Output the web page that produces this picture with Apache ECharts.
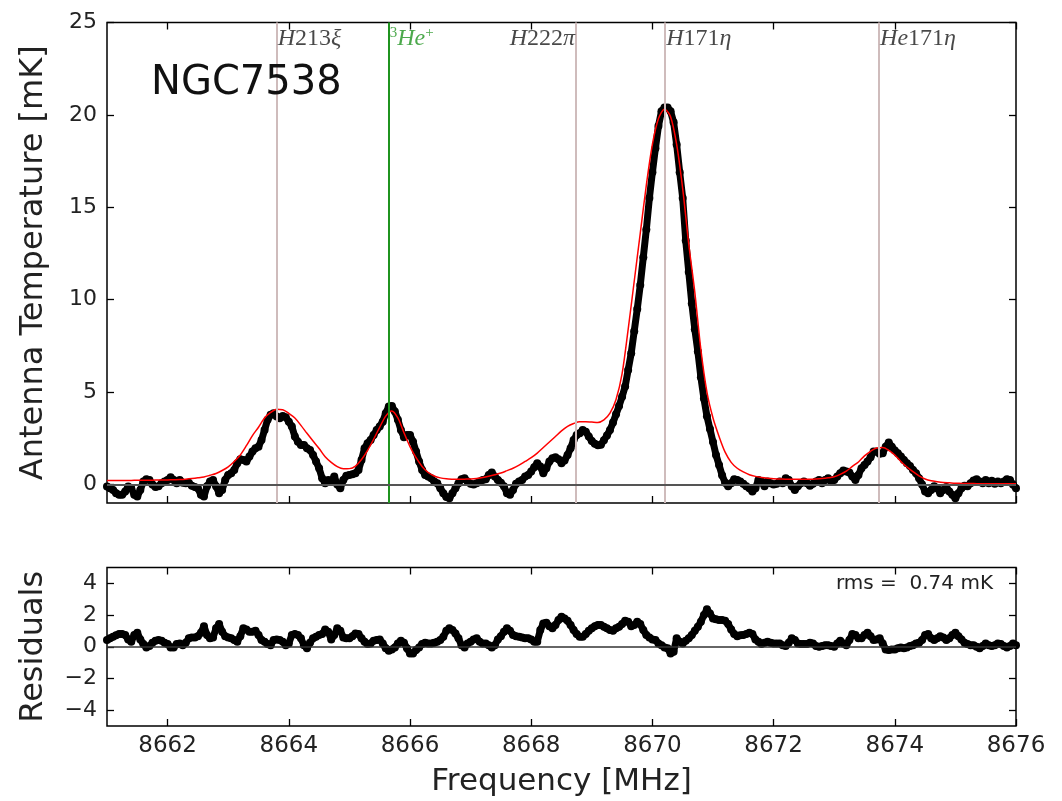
<!DOCTYPE html>
<html><head><meta charset="utf-8">
<script src="https://cdn.jsdelivr.net/npm/echarts@6/dist/echarts.min.js"></script>
<style>html,body{margin:0;padding:0;background:#fff}#c{width:1062px;height:801px}</style>
</head><body><div id="c"></div>
<script>
// Channel grid (MHz)
const freqStart = 8661.0;
const dataStep = 0.05;
const fitStep = 0.1;

// Observed antenna temperature [mK], one row per MHz (20 channels of 0.05 MHz)
const antennaTemp = [
  -0.11,-0.2,-0.29,-0.47,-0.56,-0.56,-0.38,-0.11,-0.2,-0.56,-0.65,-0.29,0.16,0.29,0.25,0,-0.14,-0.1,0.07,0.16,
  0.25,0.4,0.25,0.07,0.25,0.1,0.07,0.1,-0.07,-0.14,-0.2,-0.56,-0.65,-0.1,0.16,0.25,-0.1,-0.47,-0.29,0.25,
  0.52,0.61,0.79,1.15,1.37,1.33,1.24,1.51,1.78,1.96,2.05,2.41,2.95,3.5,3.77,3.86,3.68,3.59,3.71,3.64,
  3.4,3.14,2.6,2.32,2.14,2.14,1.96,1.87,1.6,1.24,0.88,0.34,0.07,0.25,0.16,0.43,0,-0.2,0.25,0.47,
  0.52,0.56,0.61,0.79,1.33,1.96,2.23,2.41,2.68,2.95,3.14,3.4,3.86,4.22,4.25,3.95,3.5,2.95,2.56,2.68,
  2.68,2.32,1.78,1.24,0.79,0.52,0.43,0.34,0.16,0.07,-0.2,-0.47,-0.68,-0.74,-0.47,-0.2,0.07,0.29,0.34,0.16,
  0.04,0,0.07,0.16,0.25,0.29,0.52,0.65,0.43,0.25,0.1,-0.1,-0.47,-0.56,-0.29,0.04,0.16,0.25,0.43,0.52,
  0.7,0.94,1.15,0.97,0.61,0.88,1.24,1.42,1.48,1.37,1.15,1.3,1.6,1.96,2.41,2.68,2.77,2.95,2.86,2.6,
  2.35,2.2,2.12,2.15,2.4,2.65,2.95,3.35,3.8,4.25,4.75,5.3,6.2,7.1,8.3,9.5,10.8,12.3,13.8,15.5,
  16.9,18.2,19.4,20.2,20.4,20.4,20.2,19.6,18.4,16.9,15.5,13.2,11.5,9.8,8.4,7.2,5.8,4.65,3.7,3.0,
  2.3,1.6,1.05,0.5,0.1,-0.1,0.07,0.29,0.25,0.16,0.04,-0.1,-0.2,-0.38,-0.2,0.25,0.16,-0.1,0.16,0.07,
  0,0.04,0.16,0.07,0.34,0.25,-0.1,-0.29,-0.1,0.07,0.16,0.07,-0.07,0.04,0.16,0.25,0.07,0.25,0.34,0.16,
  0.25,0.43,0.61,0.76,0.7,0.65,0.43,0.25,0.52,0.88,1.06,1.24,1.48,1.78,1.78,1.66,1.69,2.05,2.27,2.05,
  1.84,1.69,1.51,1.33,1.15,1.0,0.79,0.61,0.34,0,-0.38,-0.47,-0.29,-0.1,-0.2,-0.47,-0.29,-0.14,-0.38,-0.56,
  -0.74,-0.47,-0.2,-0.07,-0.1,0.07,0.22,0.29,0.16,0.07,0.25,0.07,0.2,0.04,0.16,0.07,0.16,0.29,0.25,0,
  -0.2
];

// Fitted model [mK], one row per MHz (10 samples of 0.1 MHz)
const fitModel = [
  0.22,0.22,0.22,0.22,0.22,0.23,0.23,0.23,0.24,0.24,
  0.25,0.26,0.27,0.29,0.32,0.36,0.41,0.5,0.6,0.76,
  0.96,1.25,1.6,2.1,2.65,3.1,3.6,3.9,4.07,4.05,
  3.85,3.6,3.2,2.77,2.35,1.95,1.5,1.2,0.97,0.85,
  0.86,1.0,1.35,1.85,2.45,3.1,3.7,3.98,3.6,2.8,
  2.05,1.45,0.98,0.65,0.46,0.36,0.31,0.29,0.28,0.29,
  0.3,0.33,0.38,0.45,0.53,0.62,0.75,0.88,1.05,1.25,
  1.45,1.7,2.0,2.3,2.6,2.9,3.15,3.3,3.4,3.4,
  3.38,3.36,3.5,3.86,4.6,6.0,8.4,11.0,13.6,16.2,
  18.4,19.8,20.3,19.9,18.4,16.0,13.0,10.4,7.3,5.0,
  3.6,2.6,1.75,1.2,0.88,0.68,0.53,0.44,0.38,0.34,
  0.31,0.3,0.29,0.29,0.29,0.29,0.29,0.3,0.32,0.36,
  0.42,0.55,0.72,0.98,1.22,1.55,1.8,1.98,2.0,1.85,
  1.6,1.25,0.95,0.7,0.47,0.3,0.2,0.15,0.11,0.09,
  0.07,0.06,0.05,0.05,0.04,0.04,0.04,0.04,0.04,0.04,
  0.04
];

// Residuals [mK], one row per MHz (20 channels of 0.05 MHz)
const residuals = [
  0.42,0.53,0.63,0.72,0.8,0.8,0.74,0.46,0.32,0.74,0.88,0.46,0.17,-0.04,0.04,0.25,0.38,0.42,0.38,0.25,
  0.17,-0.04,-0.04,0.17,0.21,0.1,0.25,0.53,0.59,0.59,0.67,0.88,1.3,0.74,0.53,0.59,1.16,1.43,0.95,0.67,
  0.59,0.53,0.42,0.32,0.67,1.16,1.09,0.95,0.95,1.01,0.74,0.42,0.32,0.17,0.1,0.42,0.46,0.42,0.32,0.1,
  0.21,0.74,0.8,0.74,0.53,0.1,-0.1,0.25,0.53,0.63,0.74,0.8,1.09,0.95,0.46,0.74,1.16,1.01,0.59,0.53,
  0.53,0.67,0.84,0.8,0.53,0.32,0.17,0.21,0.38,0.42,0.46,0.21,-0.1,-0.25,-0.17,-0.04,0.21,0.38,0.25,-0.1,
  -0.42,-0.42,-0.21,-0.04,0.17,0.25,0.21,0.21,0.25,0.32,0.42,0.63,1.01,1.16,1.05,0.84,0.53,0.1,-0.04,0.21,
  0.32,0.46,0.53,0.32,0.21,0.21,0.1,-0.04,0.1,0.46,0.67,0.95,1.16,1.01,0.74,0.67,0.63,0.59,0.53,0.53,
  0.46,0.32,0.32,1.05,1.47,1.52,1.3,1.16,1.37,1.68,1.9,1.79,1.64,1.37,1.05,0.8,0.63,0.63,0.8,1.01,
  1.16,1.3,1.37,1.37,1.26,1.16,1.05,1.01,1.16,1.26,1.43,1.64,1.58,1.3,1.37,1.58,1.43,1.05,0.74,0.59,
  0.46,0.42,0.21,0.1,-0.04,-0.1,-0.42,-0.32,0.53,0.32,0.21,0.38,0.53,0.74,1.01,1.26,1.58,2.0,2.36,2.1,
  1.79,1.73,1.68,1.68,1.64,1.43,1.09,0.8,0.67,0.72,0.74,0.8,0.88,0.8,0.46,0.32,0.17,0.25,0.32,0.25,
  0.21,0.21,0.21,0.1,0.04,0.25,0.53,0.42,0.21,0.17,0.17,0.17,0.25,0.21,0.04,0,0.04,0.1,0.1,0.04,
  0,0.21,0.38,0.21,0.1,0.42,0.8,0.74,0.53,0.53,0.74,0.88,0.67,0.42,0.46,0.53,0.21,-0.17,-0.21,-0.17,
  -0.17,-0.1,-0.04,-0.1,-0.04,0.04,0.1,0.21,0.25,0.42,0.74,0.8,0.53,0.42,0.53,0.67,0.59,0.42,0.53,0.74,
  0.88,0.67,0.46,0.25,0.17,0.1,0.1,0,-0.1,0.04,0.21,0.1,0.04,0.1,0.21,0.17,0.04,-0.04,0.04,0.21,
  0.1
];

// Spectral line rest frequencies and their labels
const lineFreqs = [8663.80, 8665.65, 8668.74, 8670.21, 8673.74];
const lineLabels = ['{i|H}{r|213}{i|ξ}', '{s|3}{i|He}{s|+}', '{i|H}{r|222}{i|π}', '{i|H}{r|171}{i|η}', '{i|He}{r|171}{i|η}'];
const lineIsHe3 = [false, true, false, false, false];
const labelLeft = [false, false, true, false, false];

// Tick values
const freqTicks = [8662, 8664, 8666, 8668, 8670, 8672, 8674, 8676];
const tempTicks = [0, 5, 10, 15, 20, 25];
const residTicks = [-4, -2, 0, 2, 4];

const sourceName = 'NGC7538';
const rmsText = 'rms =  0.74 mK';

// ---- build ----
const round2 = v => Math.round(v * 100) / 100;
const tempData = antennaTemp.map((v, i) => [round2(freqStart + i * dataStep), v]);
const fitData = fitModel.map((v, i) => [round2(freqStart + i * fitStep), v]);
const residData = residuals.map((v, i) => [round2(freqStart + i * dataStep), v]);

const FONT = 'DejaVu Sans';
const GREEN = '#1f931f';
const ROSY = '#cfbcbc';
const tickStyle = {color: '#000', width: 1.3};
const minusFmt = v => String(v).replace('-', '\u2212');
const plainFmt = v => String(v);

function xAx(grid, pos, showLabel) {
  const a = {
    type: 'value', gridIndex: grid, position: pos, min: 8661, max: 8676,
    axisLine: {show: false, onZero: false}, splitLine: {show: false},
    axisTick: {show: true, inside: true, length: 7, customValues: freqTicks, lineStyle: tickStyle},
    axisLabel: {show: false}
  };
  if (showLabel) {
    a.axisLabel = {show: true, customValues: freqTicks, formatter: plainFmt, fontFamily: FONT, fontSize: 23, color: '#222', margin: 9};
    a.name = 'Frequency [MHz]';
    a.nameLocation = 'middle';
    a.nameGap = 40;
    a.nameTextStyle = {fontFamily: FONT, fontSize: 31, color: '#222'};
  }
  return a;
}
function yAx(grid, pos, min, max, ticks, name) {
  const a = {
    type: 'value', gridIndex: grid, position: pos, min: min, max: max,
    axisLine: {show: false, onZero: false}, splitLine: {show: false},
    axisTick: {show: true, inside: true, length: 7, customValues: ticks, lineStyle: tickStyle},
    axisLabel: {show: false}
  };
  if (name) {
    a.axisLabel = {show: true, customValues: ticks, fontFamily: FONT, fontSize: 22, color: '#222', margin: 10, formatter: minusFmt};
    a.name = name;
    a.nameLocation = 'middle';
    a.nameRotate = 90;
    a.nameGap = 57;
    a.nameTextStyle = {fontFamily: FONT, fontSize: 32, color: '#222'};
  }
  return a;
}

const labelData = lineFreqs.map((f, i) => ({
  value: [f, 24.1],
  label: {
    show: true,
    position: labelLeft[i] ? 'left' : 'right',
    distance: 1,
    formatter: lineLabels[i],
    rich: (function () {
      const c = lineIsHe3[i] ? GREEN : '#1a1a1a';
      return {
        i: {fontFamily: 'Liberation Serif', fontStyle: 'italic', fontSize: 24, color: c, lineHeight: 28},
        r: {fontFamily: 'Liberation Serif', fontSize: 24, color: c, lineHeight: 28},
        s: {fontFamily: 'Liberation Serif', fontSize: 15, color: c, lineHeight: 15, verticalAlign: 'top'}
      };
    })()
  }
}));

const option = {
  animation: false,
  backgroundColor: '#fff',
  title: [
    {text: sourceName, left: 151, top: 64, padding: 0,
     textStyle: {fontFamily: FONT, fontSize: 40, fontWeight: 'normal', color: '#111'}},
    {text: rmsText, right: 69, top: 574, padding: 0,
     textStyle: {fontFamily: FONT, fontSize: 20, fontWeight: 'normal', color: '#222'}}
  ],
  grid: [
    {left: 107, right: 46, top: 22.5, height: 480.5, show: true, borderColor: '#000', borderWidth: 1.5, backgroundColor: 'transparent', containLabel: false},
    {left: 107, right: 46, top: 567.5, height: 158.5, show: true, borderColor: '#000', borderWidth: 1.5, backgroundColor: 'transparent', containLabel: false}
  ],
  xAxis: [xAx(0, 'bottom', false), xAx(0, 'top', false), xAx(1, 'bottom', true), xAx(1, 'top', false)],
  yAxis: [
    yAx(0, 'left', -1, 25, tempTicks, 'Antenna Temperature [mK]'),
    yAx(0, 'right', -1, 25, tempTicks, null),
    yAx(1, 'left', -5, 5, residTicks, 'Residuals'),
    yAx(1, 'right', -5, 5, residTicks, null)
  ],
  series: [
    {
      name: 'lines', type: 'line', xAxisIndex: 0, yAxisIndex: 0, data: [], z: 1, silent: true,
      markLine: {
        silent: true, symbol: ['none', 'none'], label: {show: false},
        data: lineFreqs.map((f, i) => ({xAxis: f, lineStyle: {color: lineIsHe3[i] ? GREEN : ROSY, width: 2, type: 'solid'}}))
          .concat([{yAxis: 0, lineStyle: {color: '#555', width: 2, type: 'solid'}}])
      }
    },
    {
      name: 'data', type: 'line', xAxisIndex: 0, yAxisIndex: 0, data: tempData, z: 3,
      symbol: 'circle', symbolSize: 8, showAllSymbol: true,
      itemStyle: {color: '#000'}, lineStyle: {color: '#000', width: 7}
    },
    {
      name: 'fit', type: 'line', xAxisIndex: 0, yAxisIndex: 0, data: fitData, z: 4,
      smooth: 0.3, symbol: 'none', lineStyle: {color: '#ff0000', width: 1.5}
    },
    {
      name: 'labels', type: 'scatter', xAxisIndex: 0, yAxisIndex: 0, data: labelData, z: 5,
      symbolSize: 0, silent: true
    },
    {
      name: 'resid', type: 'line', xAxisIndex: 2, yAxisIndex: 2, data: residData, z: 3,
      symbol: 'circle', symbolSize: 8, showAllSymbol: true,
      itemStyle: {color: '#000'}, lineStyle: {color: '#000', width: 7},
      markLine: {
        silent: true, symbol: ['none', 'none'], label: {show: false},
        data: [{yAxis: 0, lineStyle: {color: '#333', width: 1.5, type: 'solid'}}]
      }
    }
  ]
};

const chart = echarts.init(document.getElementById('c'), null, {renderer: 'canvas'});
chart.setOption(option);
</script>
</body></html>
